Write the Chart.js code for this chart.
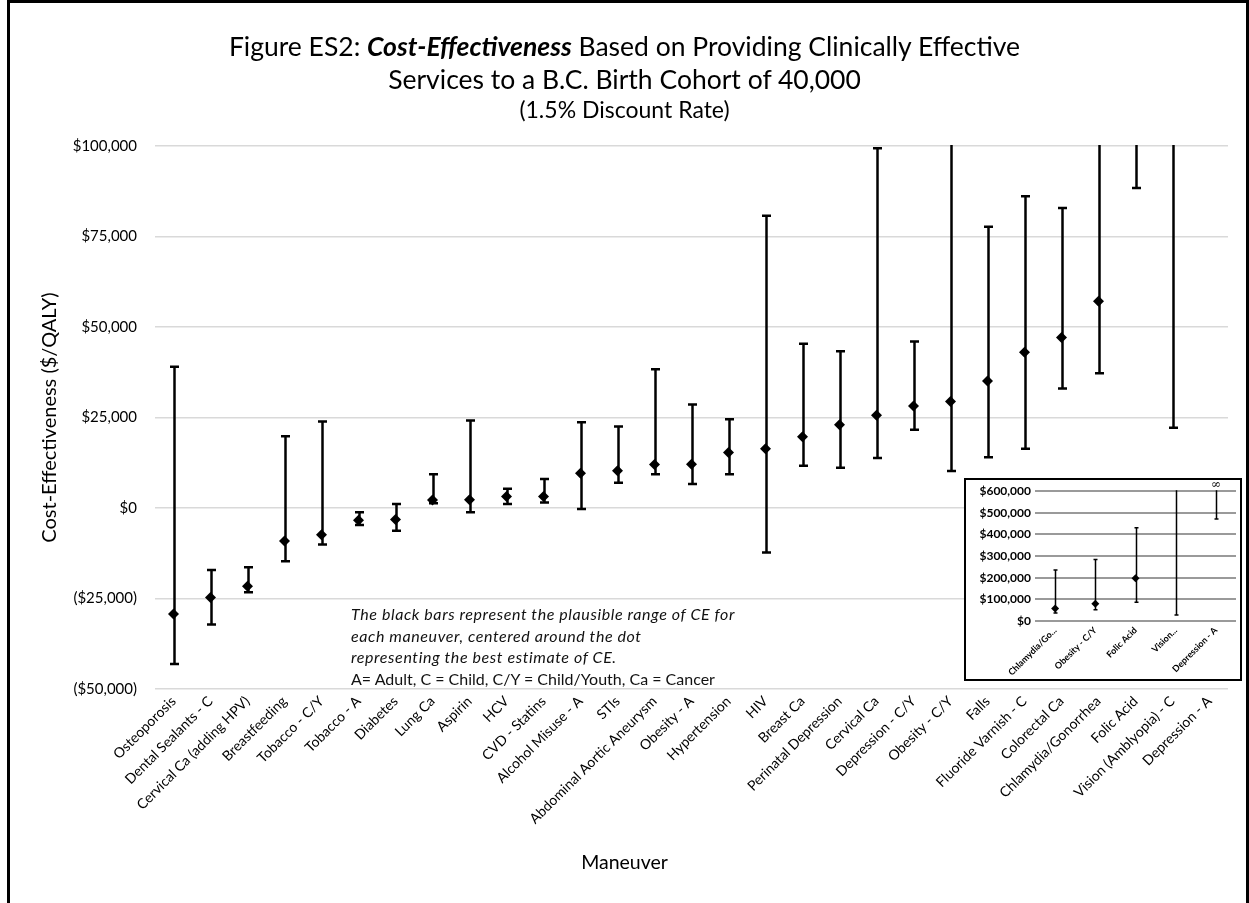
<!DOCTYPE html>
<html>
<head>
<meta charset="utf-8">
<script src="https://cdn.jsdelivr.net/npm/chart.js@4.4.1/dist/chart.umd.min.js"></script>
<style>
  html, body { margin: 0; padding: 0; background: #fff; }
  #wrap { position: relative; width: 1249px; height: 903px; overflow: hidden; font-family: Lato, "Open Sans", sans-serif; color: #000; }
  #frame { position: absolute; left: 7px; top: 0; width: 1242px; height: 920px; border: 3px solid #000; box-sizing: border-box; pointer-events: none; }
  #main { position: absolute; left: 0; top: 0; }
  #title { position: absolute; left: 0; top: 30px; width: 1249px; text-align: center; }
  #title .t1 { font-size: 26.5px; line-height: 33px; }
  #title .t2 { font-size: 23px; line-height: 26px; }
  #note { position: absolute; left: 351px; top: 603px; font-size: 16px; line-height: 21.5px; color: #111; white-space: nowrap; }
  #note i { font-style: italic; letter-spacing: 0.6px; }
  #xtitle { position: absolute; left: 0; width: 1249px; top: 848px; text-align: center; font-size: 19.5px; line-height: 28px; }
  #inset { position: absolute; left: 964px; top: 478px; width: 278px; height: 203px; border: 2px solid #000; box-sizing: border-box; background: #fff; }
  #insetCanvas { position: absolute; left: 0; top: 0; }
</style>
</head>
<body>
<div id="wrap">
  <canvas id="main" width="1249" height="903"></canvas>
  <div id="title">
    <div class="t1">Figure ES2: <b><i>Cost-Effectiveness</i></b> Based on Providing Clinically Effective</div>
    <div class="t1">Services to a B.C. Birth Cohort of 40,000</div>
    <div class="t2">(1.5% Discount Rate)</div>
  </div>
  <div id="note"><i>The black bars represent the plausible range of CE for<br>each maneuver, centered around the dot<br>representing the best estimate of CE.</i><br>A= Adult, C = Child, C/Y = Child/Youth, Ca = Cancer</div>
  <div id="xtitle">Maneuver</div>
  <div id="inset"><canvas id="insetCanvas" width="274" height="199"></canvas></div>
  <div id="frame"></div>
</div>
<script>
// ---------------- data (main chart) ----------------
const categories = [
  "Osteoporosis", "Dental Sealants - C", "Cervical Ca (adding HPV)", "Breastfeeding",
  "Tobacco - C/Y", "Tobacco - A", "Diabetes", "Lung Ca", "Aspirin", "HCV",
  "CVD - Statins", "Alcohol Misuse - A", "STIs", "Abdominal Aortic Aneurysm",
  "Obesity - A", "Hypertension", "HIV", "Breast Ca", "Perinatal Depression",
  "Cervical Ca", "Depression - C/Y", "Obesity - C/Y", "Falls", "Fluoride Varnish - C",
  "Colorectal Ca", "Chlamydia/Gonorrhea", "Folic Acid", "Vision (Amblyopia) - C", "Depression - A"
];
// best estimate (dot), $/QALY
const bestEstimate = [
  -29300, -24700, -21600, -9100, -7400, -3400, -3200, 2200, 2300, 3200,
  3200, 9600, 10300, 12000, 12100, 15300, 16400, 19700, 23000, 25600,
  28200, 29400, 35100, 43000, 47100, 57100, 197400, null, null
];
// plausible range, lower end
const rangeLow = [
  -43100, -32200, -23300, -14700, -10100, -4700, -6300, 1300, -1200, 1100,
  1500, -300, 7000, 9300, 6600, 9300, -12300, 11700, 11100, 13800,
  21600, 10200, 14000, 16400, 33000, 37200, 88400, 22200, 471400
];
// plausible range, upper end (null = unbounded / infinity)
const rangeHigh = [
  39000, -17100, -16400, 19800, 23900, -1200, 1100, 9300, 24200, 5300,
  8000, 23700, 22500, 38300, 28600, 24500, 80700, 45400, 43300, 99400,
  46000, 284700, 77700, 86100, 82900, 235700, 431600, 650000, null
];
const yTicksMain = { min: -50000, max: 100000, step: 25000 };

// ---------------- data (inset chart) ----------------
const insetCategories = ["Chlamydia/Go...", "Obesity - C/Y", "Folic Acid", "Vision...", "Depression - A"];
const insetEstimate = [58200, 79600, 197400, null, null];
const insetLow = [36700, 52000, 87200, 27600, 471400];
const insetHigh = [235700, 284700, 431600, 650000, null];
const yTicksInset = { min: 0, max: 600000, step: 100000 };

// ---------------- helpers ----------------
function money(v) {
  const s = '$' + Math.abs(v).toLocaleString('en-US');
  return v < 0 ? '(' + s + ')' : s;
}

const errorBarPlugin = {
  id: 'errorBars',
  beforeDatasetsDraw(chart, args, opts) {
    const { ctx, chartArea: a, scales } = chart;
    const xs = scales.x, ys = scales.y;
    ctx.save();
    ctx.beginPath();
    ctx.rect(a.left - 10, a.top - 1, a.right - a.left + 20, a.bottom - a.top + 2);
    ctx.clip();
    ctx.strokeStyle = '#000';
    ctx.lineWidth = opts.lineWidth;
    ctx.lineCap = 'butt';
    const half = opts.capWidth / 2;
    opts.lows.forEach((lo, i) => {
      const hi = opts.highs[i];
      const px = Math.round(xs.getPixelForValue(i)) + 0.5;
      const pLo = ys.getPixelForValue(lo);
      const pHi = hi === null ? a.top - 5 : ys.getPixelForValue(Math.min(hi, ys.max * 3));
      ctx.beginPath();
      ctx.moveTo(px, pLo);
      ctx.lineTo(px, pHi);
      ctx.stroke();
      ctx.lineWidth = opts.capLineWidth;
      ctx.beginPath();
      ctx.moveTo(px - half, pLo); ctx.lineTo(px + half, pLo);
      if (hi !== null) { ctx.moveTo(px - half, pHi); ctx.lineTo(px + half, pHi); }
      ctx.stroke();
      ctx.lineWidth = opts.lineWidth;
    });
    ctx.restore();
  },
  afterDraw(chart, args, opts) {
    if (!opts.infinityLabel) return;
    const { ctx, chartArea: a, scales } = chart;
    opts.highs.forEach((hi, i) => {
      if (hi !== null) return;
      const px = scales.x.getPixelForValue(i);
      ctx.save();
      ctx.fillStyle = '#fff';
      ctx.fillRect(px - 6, a.top - 11, 13, 9);
      ctx.fillStyle = '#000';
      ctx.font = '12px "DejaVu Serif", serif';
      ctx.textAlign = 'center';
      ctx.textBaseline = 'middle';
      ctx.fillText('\u221E', px, a.top - 6);
      ctx.restore();
    });
  }
};

// ---------------- main chart ----------------
new Chart(document.getElementById('main'), {
  type: 'line',
  data: {
    labels: categories,
    datasets: [{
      data: bestEstimate,
      showLine: false,
      pointStyle: 'rectRot',
      pointRadius: 5.5,
      pointHoverRadius: 5.5,
      pointBackgroundColor: '#000',
      pointBorderColor: '#000',
      pointBorderWidth: 0
    }]
  },
  options: {
    responsive: false,
    animation: false,
    devicePixelRatio: 1,
    layout: { padding: { left: 30, right: 21, top: 146, bottom: 20 } },
    plugins: {
      legend: { display: false },
      tooltip: { enabled: false },
      title: { display: false },
      errorBars: { lows: rangeLow, highs: rangeHigh, lineWidth: 2.5, capLineWidth: 2.5, capWidth: 9 }
    },
    scales: {
      x: {
        type: 'category',
        offset: true,
        grid: { display: false, drawTicks: false },
        border: { display: false },
        ticks: {
          autoSkip: false, minRotation: 45, maxRotation: 45, padding: 4,
          color: '#000', font: { family: 'Lato', size: 14 }
        },
        afterFit(s) { s.height = 903 - 20 - 689; }
      },
      y: {
        min: yTicksMain.min, max: yTicksMain.max,
        grid: { color: '#d9d9d9', lineWidth: 1.5, drawTicks: false },
        border: { display: false },
        ticks: {
          stepSize: yTicksMain.step, padding: 18, color: '#000',
          font: { family: 'Lato', size: 15 },
          callback: (v) => money(v)
        },
        title: {
          display: true, text: 'Cost-Effectiveness ($/QALY)', color: '#000',
          font: { family: 'Lato', size: 20 }, padding: { top: 8, bottom: 0 }
        },
        afterFit(s) { s.width = 125; }
      }
    }
  },
  plugins: [errorBarPlugin]
});

// ---------------- inset chart ----------------
new Chart(document.getElementById('insetCanvas'), {
  type: 'line',
  data: {
    labels: insetCategories,
    datasets: [{
      data: insetEstimate,
      showLine: false,
      pointStyle: 'rectRot',
      pointRadius: 4,
      pointHoverRadius: 4,
      pointBackgroundColor: '#000',
      pointBorderColor: '#000',
      pointBorderWidth: 0
    }]
  },
  options: {
    responsive: false,
    animation: false,
    devicePixelRatio: 1,
    layout: { padding: { left: 0, right: 0, top: 10, bottom: 0 } },
    plugins: {
      legend: { display: false },
      tooltip: { enabled: false },
      title: { display: false },
      errorBars: { lows: insetLow, highs: insetHigh, lineWidth: 1.5, capLineWidth: 1.5, capWidth: 4, infinityLabel: true }
    },
    scales: {
      x: {
        type: 'category',
        offset: true,
        grid: { display: false, drawTicks: false },
        border: { display: false },
        ticks: {
          autoSkip: false, minRotation: 45, maxRotation: 45, padding: 4,
          color: '#000', font: { family: 'Lato', size: 9, weight: 'bold' }
        },
        afterFit(s) { s.height = 58; }
      },
      y: {
        min: yTicksInset.min, max: yTicksInset.max,
        grid: { color: '#9a9a9a', lineWidth: 2, drawTicks: false },
        border: { display: false },
        ticks: {
          stepSize: yTicksInset.step, padding: 4, color: '#000',
          font: { family: 'Lato', size: 12, weight: 'bold' },
          callback: (v) => money(v)
        },
        afterFit(s) { s.width = 69; }
      }
    }
  },
  plugins: [errorBarPlugin]
});
</script>
</body>
</html>
